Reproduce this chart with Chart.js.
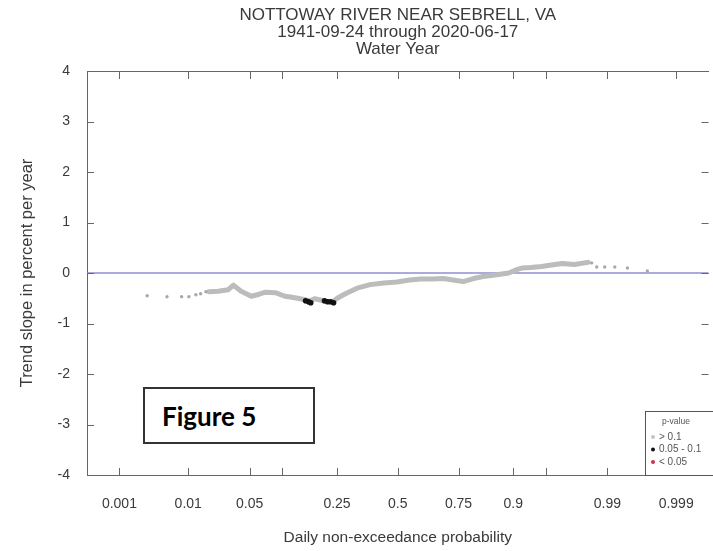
<!DOCTYPE html>
<html>
<head>
<meta charset="utf-8">
<script src="https://cdn.jsdelivr.net/npm/chart.js@4.4.1/dist/chart.umd.min.js"></script>
<style>
  html, body { margin: 0; padding: 0; background: #fff; overflow: hidden; }
  #wrap { position: absolute; left: 0; top: 0; width: 715px; height: 551px; }
  #fig {
    position: absolute; left: 143px; top: 387px; width: 168px; height: 53px;
    border: 2px solid #333; background: #fff;
    font-family: Lato, "Open Sans", sans-serif; font-weight: bold; font-size: 26px; color: #000;
  }
  #fig span { position: absolute; left: 17px; top: 11px; }
</style>
</head>
<body>
<div id="wrap"><canvas id="myChart" width="715" height="551"></canvas></div>
<div id="fig"><span>Figure 5</span></div>
<script>
// tick positions on the probability axis
const tickProbs = [0.001, 0.01, 0.05, 0.1, 0.25, 0.5, 0.75, 0.9, 0.95, 0.99, 0.999];
const tickLabels = ['0.001', '0.01', '0.05', '', '0.25', '0.5', '0.75', '0.9', '', '0.99', '0.999'];
const yTicks = [-4, -3, -2, -1, 0, 1, 2, 3, 4];

// sparse dots at the low end (p > 0.1)
const lowTailP = [0.0027, 0.0052, 0.0082, 0.0102, 0.0125, 0.0143, 0.0166];
const lowTailSlope = [-0.45, -0.47, -0.47, -0.47, -0.43, -0.41, -0.37];

// dense part of the curve (p > 0.1)
const bandP = [0.018, 0.023, 0.030, 0.034, 0.041, 0.052, 0.062, 0.071, 0.087, 0.105, 0.120, 0.133,
  0.151, 0.165, 0.178, 0.192, 0.210, 0.234, 0.251, 0.270, 0.288, 0.326, 0.379, 0.439, 0.496,
  0.552, 0.600, 0.650, 0.693, 0.730, 0.766, 0.800, 0.828, 0.860, 0.891, 0.905, 0.917, 0.930,
  0.945, 0.956, 0.966, 0.975, 0.9826];
const bandSlope = [-0.37, -0.36, -0.33, -0.24, -0.36, -0.46, -0.42, -0.38, -0.39, -0.46, -0.48, -0.50,
  -0.53, -0.55, -0.51, -0.53, -0.56, -0.57, -0.50, -0.44, -0.39, -0.30, -0.23, -0.20, -0.18,
  -0.14, -0.12, -0.12, -0.11, -0.14, -0.17, -0.11, -0.07, -0.04, 0.00, 0.06, 0.10, 0.11,
  0.13, 0.16, 0.19, 0.17, 0.21];

// 0.05 - 0.1 points
const midP = [0.153, 0.161, 0.167, 0.208, 0.218, 0.228, 0.238];
const midSlope = [-0.55, -0.57, -0.59, -0.55, -0.57, -0.57, -0.59];

// sparse dots at the high end
const highTailP = [0.9843, 0.9864, 0.9892, 0.9920, 0.9946, 0.9972];
const highTailSlope = [0.20, 0.12, 0.12, 0.12, 0.10, 0.04];

const titleLines = ['NOTTOWAY RIVER NEAR SEBRELL, VA', '1941-09-24 through 2020-06-17', 'Water Year'];
const legendItems = ['> 0.1', '0.05 - 0.1', '< 0.05'];
const legendColors = ['#c4c4c4', '#111111', '#d03050'];

// normal quantile (probability axis)
function probit(p) {
  const a = [-3.969683028665376e+01, 2.209460984245205e+02, -2.759285104469687e+02, 1.383577518672690e+02, -3.066479806614716e+01, 2.506628277459239e+00];
  const b = [-5.447609879822406e+01, 1.615858368580409e+02, -1.556989798598866e+02, 6.680131188771972e+01, -1.328068155288572e+01];
  const c = [-7.784894002430293e-03, -3.223964580411365e-01, -2.400758277161838e+00, -2.549732539343734e+00, 4.374664141464968e+00, 2.938163982698783e+00];
  const d = [7.784695709041462e-03, 3.224671290700398e-01, 2.445134137142996e+00, 3.754408661907416e+00];
  const pl = 0.02425;
  let q, r;
  if (p < pl) {
    q = Math.sqrt(-2 * Math.log(p));
    return (((((c[0]*q+c[1])*q+c[2])*q+c[3])*q+c[4])*q+c[5]) / ((((d[0]*q+d[1])*q+d[2])*q+d[3])*q+1);
  }
  if (p > 1 - pl) {
    q = Math.sqrt(-2 * Math.log(1 - p));
    return -(((((c[0]*q+c[1])*q+c[2])*q+c[3])*q+c[4])*q+c[5]) / ((((d[0]*q+d[1])*q+d[2])*q+d[3])*q+1);
  }
  q = p - 0.5; r = q * q;
  return (((((a[0]*r+a[1])*r+a[2])*r+a[3])*r+a[4])*r+a[5])*q / (((((b[0]*r+b[1])*r+b[2])*r+b[3])*r+b[4])*r+1);
}

const toXY = (ps, vs) => ps.map((p, i) => ({ x: probit(p), y: vs[i] }));

const FONT = '"Liberation Sans", Arial, sans-serif';
const TEXT = '#3a3a3a';
const AXIS = '#666';
const XMIN = -3.45, XMAX = 3.45;

// blue line at zero
const zeroLine = {
  id: 'zeroLine',
  beforeDatasetsDraw(chart) {
    const { ctx, chartArea, scales } = chart;
    const y = scales.y.getPixelForValue(0);
    ctx.save();
    ctx.strokeStyle = '#8e8ed4';
    ctx.lineWidth = 1.6;
    ctx.beginPath();
    ctx.moveTo(chartArea.left, y);
    ctx.lineTo(chartArea.right, y);
    ctx.stroke();
    ctx.restore();
  }
};

// inward tick marks on all four sides
const inTicks = {
  id: 'inTicks',
  afterDatasetsDraw(chart) {
    const { ctx, chartArea, scales } = chart;
    ctx.save();
    ctx.strokeStyle = AXIS;
    ctx.lineWidth = 1;
    ctx.beginPath();
    tickProbs.forEach(p => {
      const x = Math.round(scales.x.getPixelForValue(probit(p))) + 0.5;
      ctx.moveTo(x, chartArea.bottom); ctx.lineTo(x, chartArea.bottom - 7);
      ctx.moveTo(x, chartArea.top); ctx.lineTo(x, chartArea.top + 8);
    });
    yTicks.forEach(v => {
      const y = Math.round(scales.y.getPixelForValue(v)) + 0.5;
      ctx.moveTo(chartArea.left, y); ctx.lineTo(chartArea.left + 7, y);
      ctx.moveTo(chartArea.right, y); ctx.lineTo(chartArea.right - 7, y);
    });
    ctx.stroke();
    ctx.restore();
  }
};

// p-value key in the lower right corner
const pLegend = {
  id: 'pLegend',
  afterDraw(chart) {
    const { ctx, chartArea } = chart;
    const left = 645, top = 411;
    ctx.save();
    ctx.fillStyle = '#fff';
    ctx.fillRect(left, top, chartArea.right - left + 5, chartArea.bottom - top);
    ctx.strokeStyle = '#555';
    ctx.lineWidth = 1;
    ctx.strokeRect(left + 0.5, top + 0.5, chartArea.right - left + 5, chartArea.bottom - top);
    ctx.fillStyle = '#555';
    ctx.textBaseline = 'middle';
    ctx.font = '8.5px ' + FONT;
    ctx.fillText('p-value', 662, top + 11);
    ctx.font = '10px ' + FONT;
    legendItems.forEach((t, i) => {
      const y = top + 26 + i * 12.5;
      ctx.fillStyle = legendColors[i];
      ctx.beginPath();
      ctx.arc(653, y, 2, 0, Math.PI * 2);
      ctx.fill();
      ctx.fillStyle = '#555';
      ctx.fillText(t, 659, y);
    });
    ctx.restore();
  }
};

new Chart(document.getElementById('myChart'), {
  type: 'scatter',
  data: {
    datasets: [
      {
        label: '0.05 - 0.1',
        data: toXY(midP, midSlope),
        pointRadius: 2.8,
        pointBackgroundColor: '#111',
        pointBorderWidth: 0,
        order: 0
      },
      {
        label: '> 0.1',
        data: toXY(bandP, bandSlope),
        showLine: true,
        borderColor: '#bcbcbc',
        borderWidth: 5,
        borderCapStyle: 'round',
        borderJoinStyle: 'round',
        pointRadius: 0,
        order: 2
      },
      {
        label: '> 0.1 low',
        data: toXY(lowTailP, lowTailSlope),
        pointRadius: 1.7,
        pointBackgroundColor: '#a8a8a8',
        pointBorderWidth: 0,
        order: 1
      },
      {
        label: '> 0.1 high',
        data: toXY(highTailP, highTailSlope),
        pointRadius: 1.7,
        pointBackgroundColor: '#a8a8a8',
        pointBorderWidth: 0,
        order: 1
      }
    ]
  },
  options: {
    responsive: false,
    animation: false,
    layout: { padding: 0 },
    plugins: {
      legend: { display: false },
      tooltip: { enabled: false },
      title: { display: false }
    },
    scales: {
      x: {
        type: 'linear',
        position: 'bottom',
        min: XMIN,
        max: XMAX,
        afterBuildTicks: axis => { axis.ticks = tickProbs.map(p => ({ value: probit(p) })); },
        afterFit: axis => { axis.height = 76; },
        ticks: {
          autoSkip: false,
          maxRotation: 0,
          padding: 21,
          color: TEXT,
          font: { family: FONT, size: 14 },
          callback: (v, i) => tickLabels[i]
        },
        grid: { display: false, drawTicks: false },
        border: { display: true, color: AXIS, width: 1 },
        title: {
          display: true,
          text: 'Daily non-exceedance probability',
          color: TEXT,
          font: { family: FONT, size: 15.5 },
          padding: { top: 0, bottom: 4 }
        }
      },
      xTop: {
        type: 'linear',
        position: 'top',
        min: XMIN,
        max: XMAX,
        afterFit: axis => { axis.height = 71; },
        ticks: { display: false },
        grid: { display: false, drawTicks: false },
        border: { display: true, color: AXIS, width: 1 },
        title: {
          display: true,
          text: titleLines,
          color: TEXT,
          font: { family: FONT, size: 17, lineHeight: 1.0 },
          padding: { top: 6.5, bottom: 0 }
        }
      },
      y: {
        type: 'linear',
        position: 'left',
        min: -4,
        max: 4,
        afterFit: axis => { axis.width = 87; },
        ticks: {
          stepSize: 1,
          padding: 17,
          color: TEXT,
          font: { family: FONT, size: 14 }
        },
        grid: { display: false, drawTicks: false },
        border: { display: true, color: AXIS, width: 1 },
        title: {
          display: true,
          text: 'Trend slope in percent per year',
          color: TEXT,
          font: { family: FONT, size: 16.5 },
          padding: { top: 18, bottom: 0 }
        }
      }
    }
  },
  plugins: [zeroLine, inTicks, pLegend]
});
</script>
</body>
</html>
